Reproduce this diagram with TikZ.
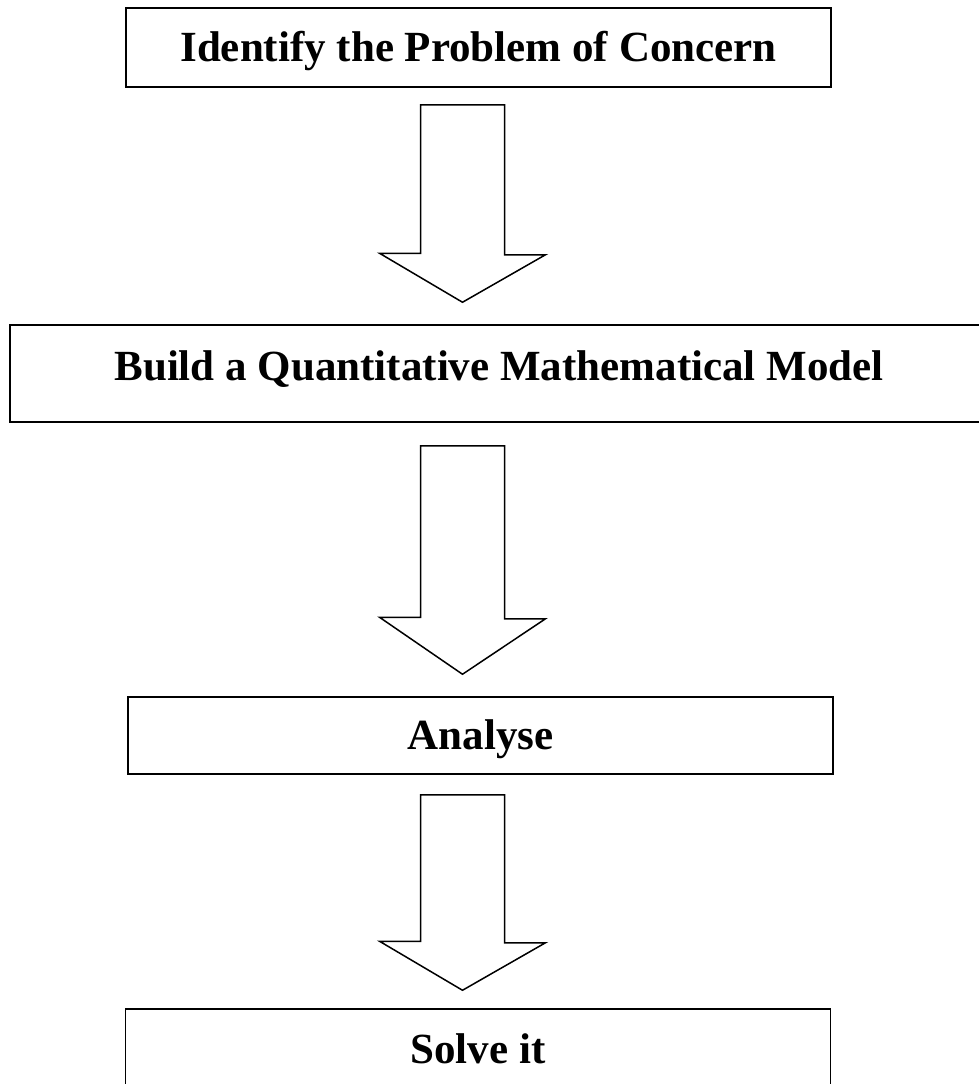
\documentclass[tikz,border=0pt]{standalone}
\usepackage{fontspec}
\setmainfont{Liberation Serif}
\usetikzlibrary{calc}

\begin{document}
\begin{tikzpicture}[
  x=1pt, y=-1pt,
  stage/.style={draw, line width=1.5pt, inner sep=0pt, text height=28pt, text depth=0pt,
    font=\fontsize{43}{47}\selectfont\bfseries},
  blockarrow/.style={draw, line width=1.5pt, fill=white, line join=miter},
]

% page frame (same size as the reference)
\useasboundingbox (0,0) rectangle (978,1084);

% the four stages
\node[stage, minimum width=705pt, minimum height=79pt] (identify) at (478.5,47.5)
  {Identify the Problem of Concern};
% right edge runs off the page, as in the reference
\node[stage, minimum width=990pt, minimum height=97pt] (build) at (505,373.5)
  {\raisebox{7pt}{Build a Quantitative Mathematical Model}\hspace*{12pt}};
\node[stage, minimum width=705pt, minimum height=77pt] (analyse) at (480.5,735.5)
  {Analyse};
\node[stage, minimum width=705pt, minimum height=81pt] (solve) at (478,1049.5)
  {Solve it};

% axis of the block arrows
\coordinate (ax) at (462.5,0);

% arrow 1 : identify -> build
\draw[blockarrow] ($(identify.south -| ax)+(-42,17)$) -- ++(84,0) -- ++(0,150) -- ++(41,0)
  -- ($(build.north -| ax)+(0,-22)$) -- ++(-83,-49) -- ++(41,0) -- cycle;

% arrow 2 : build -> analyse
\draw[blockarrow] ($(build.south -| ax)+(-42,23)$) -- ++(84,0) -- ++(0,173) -- ++(41,0)
  -- ($(analyse.north -| ax)+(0,-22)$) -- ++(-83,-57) -- ++(41,0) -- cycle;

% arrow 3 : analyse -> solve
\draw[blockarrow] ($(analyse.south -| ax)+(-42,20)$) -- ++(84,0) -- ++(0,148) -- ++(41,0)
  -- ($(solve.north -| ax)+(0,-18)$) -- ++(-83,-49) -- ++(41,0) -- cycle;

\end{tikzpicture}
\end{document}
